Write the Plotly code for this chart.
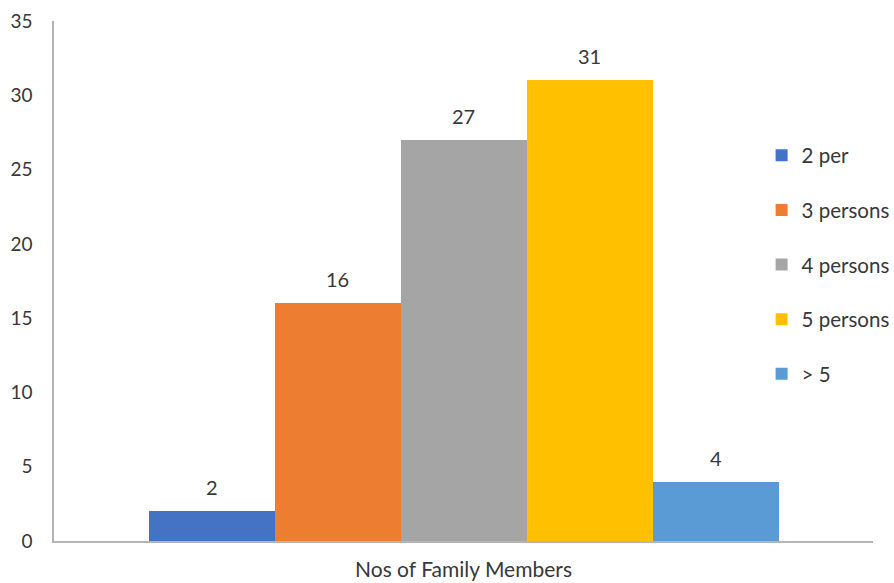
import plotly.graph_objects as go

# Household size groups and respondent counts
groups = ["2 per", "3 persons", "4 persons", "5 persons", "> 5"]
counts = [2, 16, 27, 31, 4]
colors = ["#4472C4", "#ED7D31", "#A5A5A5", "#FFC000", "#5B9BD5"]
category_label = "Nos of Family Members"

FONT = "Lato, Carlito, Calibri, sans-serif"
TEXT = "#383838"

fig = go.Figure()
positions = list(range(len(groups)))
for pos, name, val, col in zip(positions, groups, counts, colors):
    fig.add_trace(go.Bar(
        x=[pos], y=[val], name=name, width=1.0,
        marker=dict(color=col, line=dict(width=0)),
        legendgroup=name, hoverinfo="name+y",
    ))
    fig.add_annotation(
        x=pos, y=val, text=str(val), showarrow=False,
        yshift=24, yanchor="middle",
        font=dict(family=FONT, size=20, color=TEXT),
    )

fig.update_layout(
    width=894, height=583,
    margin=dict(l=54, r=21, t=21, b=42, autoexpand=False),
    paper_bgcolor="white", plot_bgcolor="white",
    font=dict(family=FONT, size=20, color=TEXT),
    showlegend=True,
    legend=dict(
        x=0.864, y=0.78, xanchor="left", yanchor="top",
        traceorder="grouped", tracegroupgap=25,
        font=dict(family=FONT, size=20.5, color=TEXT),
        bgcolor="rgba(0,0,0,0)",
    ),
    bargap=0, bargroupgap=0,
)

fig.update_xaxes(
    range=[-1.25, 5.25], tickmode="array",
    tickvals=[(len(groups) - 1) / 2], ticktext=[category_label],
    showgrid=False, zeroline=False, showline=True,
    linecolor="#B4B4B4", linewidth=1.5, ticks="",
    ticklabelstandoff=9, automargin=False,
    tickfont=dict(family=FONT, size=21, color=TEXT),
)
fig.update_yaxes(
    range=[0, 35], dtick=5, showgrid=False, zeroline=False,
    showline=True, linecolor="#B4B4B4", linewidth=1.5, ticks="",
    ticklabelstandoff=16, automargin=False,
    tickfont=dict(family=FONT, size=19, color=TEXT),
)

fig.write_html("out.html")
